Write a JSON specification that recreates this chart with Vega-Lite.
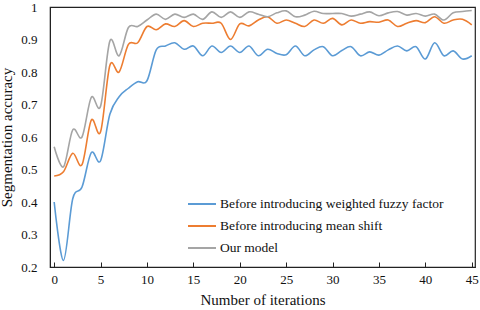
{
  "$schema": "https://vega.github.io/schema/vega-lite/v6.json",
  "width": 425,
  "height": 260,
  "autosize": {"type": "none"},
  "padding": {"left": 50, "top": 7, "right": 5, "bottom": 43},
  "background": "white",
  "config": {
    "view": {"stroke": "#222", "strokeWidth": 1.2},
    "font": "Liberation Serif"
  },
  "data": {
    "values": [
      {"it": 0, "a": 0.40, "b": 0.48, "c": 0.57},
      {"it": 1, "a": 0.22, "b": 0.493, "c": 0.508},
      {"it": 2, "a": 0.41, "b": 0.55, "c": 0.622},
      {"it": 3, "a": 0.446, "b": 0.515, "c": 0.60},
      {"it": 4, "a": 0.552, "b": 0.652, "c": 0.722},
      {"it": 5, "a": 0.527, "b": 0.616, "c": 0.695},
      {"it": 6, "a": 0.67, "b": 0.82, "c": 0.895},
      {"it": 7, "a": 0.724, "b": 0.80, "c": 0.85},
      {"it": 8, "a": 0.75, "b": 0.885, "c": 0.937},
      {"it": 9, "a": 0.77, "b": 0.89, "c": 0.94},
      {"it": 10, "a": 0.773, "b": 0.94, "c": 0.96},
      {"it": 11, "a": 0.868, "b": 0.93, "c": 0.978},
      {"it": 12, "a": 0.88, "b": 0.948, "c": 0.962},
      {"it": 13, "a": 0.89, "b": 0.94, "c": 0.978},
      {"it": 14, "a": 0.87, "b": 0.958, "c": 0.968},
      {"it": 15, "a": 0.88, "b": 0.94, "c": 0.978},
      {"it": 16, "a": 0.85, "b": 0.95, "c": 0.962},
      {"it": 17, "a": 0.88, "b": 0.95, "c": 0.985},
      {"it": 18, "a": 0.86, "b": 0.95, "c": 0.968},
      {"it": 19, "a": 0.88, "b": 0.90, "c": 0.985},
      {"it": 20, "a": 0.86, "b": 0.948, "c": 0.968},
      {"it": 21, "a": 0.88, "b": 0.942, "c": 0.985},
      {"it": 22, "a": 0.85, "b": 0.96, "c": 0.978},
      {"it": 23, "a": 0.87, "b": 0.97, "c": 0.97},
      {"it": 24, "a": 0.857, "b": 0.95, "c": 0.982},
      {"it": 25, "a": 0.853, "b": 0.96, "c": 0.988},
      {"it": 26, "a": 0.88, "b": 0.95, "c": 0.97},
      {"it": 27, "a": 0.85, "b": 0.94, "c": 0.975},
      {"it": 28, "a": 0.868, "b": 0.96, "c": 0.987},
      {"it": 29, "a": 0.878, "b": 0.95, "c": 0.98},
      {"it": 30, "a": 0.85, "b": 0.965, "c": 0.98},
      {"it": 31, "a": 0.866, "b": 0.945, "c": 0.98},
      {"it": 32, "a": 0.878, "b": 0.96, "c": 0.972},
      {"it": 33, "a": 0.85, "b": 0.95, "c": 0.978},
      {"it": 34, "a": 0.862, "b": 0.955, "c": 0.985},
      {"it": 35, "a": 0.852, "b": 0.953, "c": 0.973},
      {"it": 36, "a": 0.868, "b": 0.96, "c": 0.982},
      {"it": 37, "a": 0.88, "b": 0.94, "c": 0.986},
      {"it": 38, "a": 0.865, "b": 0.95, "c": 0.975},
      {"it": 39, "a": 0.878, "b": 0.958, "c": 0.98},
      {"it": 40, "a": 0.84, "b": 0.952, "c": 0.972},
      {"it": 41, "a": 0.89, "b": 0.97, "c": 0.978},
      {"it": 42, "a": 0.85, "b": 0.95, "c": 0.96},
      {"it": 43, "a": 0.865, "b": 0.96, "c": 0.982},
      {"it": 44, "a": 0.84, "b": 0.962, "c": 0.986},
      {"it": 45, "a": 0.85, "b": 0.945, "c": 0.989}
    ]
  },
  "transform": [
    {"fold": ["a", "b", "c"], "as": ["key", "value"]},
    {"lookup": "key", "from": {"data": {"values": [
      {"key": "a", "series": "Before introducing weighted fuzzy factor"},
      {"key": "b", "series": "Before introducing mean shift"},
      {"key": "c", "series": "Our model"}
    ]}, "key": "key", "fields": ["series"]}}
  ],
  "mark": {"type": "line", "interpolate": "cardinal", "strokeWidth": 1.6},
  "encoding": {
    "x": {
      "field": "it", "type": "quantitative",
      "scale": {"domain": [-0.45, 45.35], "nice": false, "zero": false},
      "axis": {
        "title": "Number of iterations",
        "values": [0, 5, 10, 15, 20, 25, 30, 35, 40, 45],
        "grid": false,
        "domainColor": "#222",
        "tickColor": "#222",
        "tickSize": -5,
        "labelPadding": 11,
        "labelFontSize": 13,
        "labelColor": "#111",
        "labelFont": "Liberation Serif",
        "titleFont": "Liberation Serif",
        "titleFontSize": 15,
        "titleFontWeight": "normal",
        "titleColor": "#111",
        "titlePadding": 6
      }
    },
    "y": {
      "field": "value", "type": "quantitative",
      "scale": {"domain": [0.2, 1], "nice": false, "zero": false},
      "axis": {
        "title": "Segmentation accuracy",
        "values": [0.2, 0.3, 0.4, 0.5, 0.6, 0.7, 0.8, 0.9, 1],
        "format": ".1~f",
        "grid": false,
        "domainColor": "#222",
        "ticks": false,
        "labelPadding": 13,
        "labelFontSize": 13,
        "labelColor": "#111",
        "labelFont": "Liberation Serif",
        "titleFont": "Liberation Serif",
        "titleFontSize": 15,
        "titleFontWeight": "normal",
        "titleColor": "#111",
        "titlePadding": 6
      }
    },
    "color": {
      "field": "series", "type": "nominal",
      "scale": {
        "domain": ["Before introducing weighted fuzzy factor", "Before introducing mean shift", "Our model"],
        "range": ["#5B9BD5", "#ED7D31", "#A5A5A5"]
      },
      "legend": {
        "title": null,
        "orient": "none",
        "legendX": 137,
        "legendY": 182,
        "symbolType": "stroke",
        "symbolSize": 784,
        "symbolStrokeWidth": 2,
        "rowPadding": -5,
        "labelFont": "Liberation Serif",
        "labelFontSize": 13.5,
        "labelColor": "#111",
        "labelOffset": 3,
        "labelLimit": 300
      }
    }
  }
}
